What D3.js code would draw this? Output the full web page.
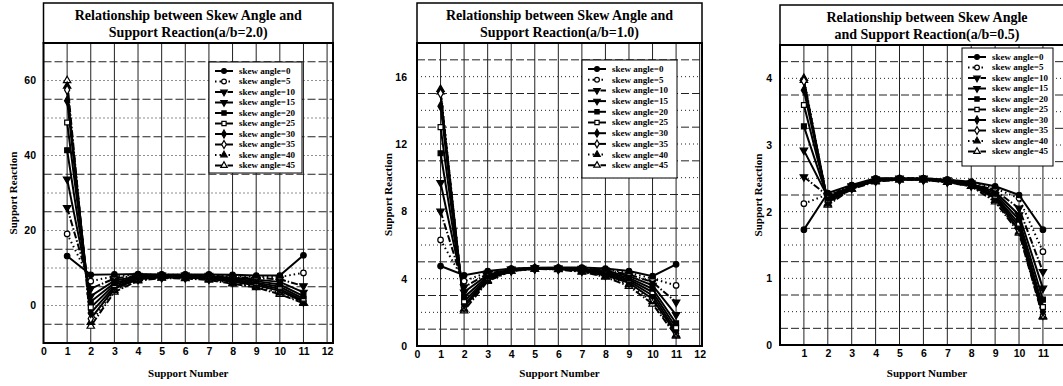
<!DOCTYPE html>
<html>
<head>
<meta charset="utf-8">
<script src="https://cdn.jsdelivr.net/npm/d3@7"></script>
<style>
  body { margin: 0; background: #fff; }
  svg { display: block; }
  .title { font-family: "Liberation Serif", "Times New Roman", serif; font-weight: bold; font-size: 14px; }
  .axis-title { font-family: "Liberation Serif", "Times New Roman", serif; font-weight: bold; font-size: 11px; }
  .tick text { font-family: "Liberation Sans", Arial, sans-serif; font-weight: bold; font-size: 10.5px; fill: #000; }
  .legend text { font-family: "Liberation Serif", "Times New Roman", serif; font-weight: bold; font-size: 9px; }
</style>
</head>
<body>
<svg id="chart" width="1063" height="386"></svg>
<script>
const supportNumbers = [1, 2, 3, 4, 5, 6, 7, 8, 9, 10, 11];
const skewAngles = [0, 5, 10, 15, 20, 25, 30, 35, 40, 45];

// support reaction, one row per support number, one column per skew angle
const reactionAB20 = [
  [13.2, 19.1, 26.1, 33.7, 41.4, 48.8, 54.6, 57.5, 58.5, 60.0],
  [8.2, 6.5, 4.5, 2.5, 1.0, -0.5, -2.0, -3.5, -4.5, -5.5],
  [8.3, 7.8, 7.2, 6.6, 6.0, 5.5, 5.0, 4.5, 4.0, 3.6],
  [8.4, 8.2, 8.0, 7.8, 7.6, 7.4, 7.2, 7.0, 6.8, 6.6],
  [8.3, 8.2, 8.1, 8.0, 7.9, 7.8, 7.6, 7.5, 7.4, 7.3],
  [8.3, 8.2, 8.1, 8.0, 7.8, 7.7, 7.6, 7.4, 7.3, 7.2],
  [8.3, 8.1, 8.0, 7.8, 7.6, 7.4, 7.3, 7.1, 7.0, 6.8],
  [8.2, 7.9, 7.6, 7.4, 7.1, 6.8, 6.5, 6.3, 6.0, 5.8],
  [8.0, 7.6, 7.3, 6.9, 6.5, 6.1, 5.8, 5.4, 5.1, 4.8],
  [8.0, 7.6, 7.0, 6.3, 5.6, 5.0, 4.4, 3.9, 3.4, 3.0],
  [13.4, 8.7, 5.2, 3.5, 2.5, 1.8, 1.3, 1.0, 0.8, 0.6]
];

const reactionAB10 = [
  [4.75, 6.3, 8.0, 9.7, 11.45, 13.0, 14.25, 15.0, 15.25, 15.1],
  [4.2, 3.85, 3.5, 3.2, 2.9, 2.65, 2.45, 2.3, 2.2, 2.1],
  [4.45, 4.38, 4.3, 4.22, 4.15, 4.08, 4.0, 3.95, 3.9, 3.85],
  [4.6, 4.58, 4.56, 4.54, 4.52, 4.5, 4.49, 4.48, 4.46, 4.45],
  [4.65, 4.64, 4.63, 4.62, 4.61, 4.6, 4.6, 4.59, 4.58, 4.58],
  [4.66, 4.64, 4.62, 4.61, 4.6, 4.59, 4.58, 4.57, 4.56, 4.55],
  [4.66, 4.63, 4.6, 4.57, 4.54, 4.51, 4.48, 4.45, 4.42, 4.4],
  [4.6, 4.55, 4.5, 4.45, 4.4, 4.33, 4.27, 4.2, 4.15, 4.1],
  [4.45, 4.35, 4.25, 4.15, 4.05, 3.95, 3.85, 3.75, 3.65, 3.55],
  [4.15, 4.0, 3.8, 3.6, 3.4, 3.2, 3.0, 2.8, 2.65, 2.5],
  [4.85, 3.6, 2.6, 1.85, 1.35, 1.1, 0.9, 0.75, 0.65, 0.6]
];

const reactionAB05 = [
  [1.73, 2.12, 2.52, 2.92, 3.28, 3.6, 3.82, 3.96, 4.0, 3.97],
  [2.28, 2.26, 2.24, 2.22, 2.2, 2.18, 2.16, 2.14, 2.12, 2.1],
  [2.4, 2.39, 2.38, 2.38, 2.37, 2.36, 2.36, 2.35, 2.34, 2.34],
  [2.5, 2.49, 2.49, 2.48, 2.48, 2.47, 2.47, 2.46, 2.46, 2.45],
  [2.5, 2.5, 2.5, 2.49, 2.49, 2.49, 2.49, 2.48, 2.48, 2.48],
  [2.5, 2.5, 2.5, 2.49, 2.49, 2.49, 2.48, 2.48, 2.48, 2.48],
  [2.48, 2.48, 2.47, 2.47, 2.46, 2.46, 2.45, 2.45, 2.44, 2.44],
  [2.45, 2.44, 2.43, 2.42, 2.41, 2.4, 2.4, 2.39, 2.38, 2.38],
  [2.38, 2.35, 2.32, 2.3, 2.27, 2.24, 2.22, 2.2, 2.17, 2.15],
  [2.25, 2.2, 2.05, 1.95, 1.88, 1.82, 1.77, 1.72, 1.7, 1.68],
  [1.73, 1.4, 1.1, 0.85, 0.68, 0.57, 0.5, 0.45, 0.43, 0.42]
];

const xTicksFull = [0, 1, 2, 3, 4, 5, 6, 7, 8, 9, 10, 11, 12];
const xTicksInner = [1, 2, 3, 4, 5, 6, 7, 8, 9, 10, 11];
const yTicksAB20 = [0, 20, 40, 60];
const yTicksAB10 = [0, 4, 8, 12, 16];
const yTicksAB05 = [0, 1, 2, 3, 4];

const panels = [
  { title: ['Relationship between Skew Angle and', 'Support Reaction(a/b=2.0)'], data: reactionAB20,
    xTicks: xTicksFull, yTicks: yTicksAB20, xMax: 12.25, yDomain: [-10, 70], gridStep: 5,
    left: 43.5, right: 333, top: 3, plotTop: 43, bottom: 343,
    tickX: 36, titleX: 13, legend: { x: 209, y: 62, w: 93, h: 111, step: 10.5 } },
  { title: ['Relationship between Skew Angle and', 'Support Reaction(a/b=1.0)'], data: reactionAB10,
    xTicks: xTicksFull, yTicks: yTicksAB10, xMax: 12.1, yDomain: [0, 18], gridStep: 1,
    left: 417, right: 702, top: 3, plotTop: 43, bottom: 346,
    tickX: 407, titleX: 388, legend: { x: 582, y: 60, w: 95, h: 118, step: 10.7 } },
  { title: ['Relationship between Skew Angle', 'and Support Reaction(a/b=0.5)'], data: reactionAB05,
    xTicks: xTicksInner, yTicks: yTicksAB05, xMax: 12.3, yDomain: [0, 4.5], gridStep: 0.25,
    left: 780, right: 1074, top: 5, plotTop: 45, bottom: 345,
    tickX: 772, titleX: 758, legend: { x: 962, y: 48, w: 91, h: 118, step: 10.5 } }
];

const seriesStyle = [
  { shape: d3.symbolCircle, rot: 0, open: false, dash: null },
  { shape: d3.symbolCircle, rot: 0, open: true, dash: '1.5,3' },
  { shape: d3.symbolTriangle, rot: 180, open: false, dash: '7,2,1.5,2' },
  { shape: d3.symbolTriangle, rot: 180, open: false, dash: null },
  { shape: d3.symbolSquare, rot: 0, open: false, dash: null },
  { shape: d3.symbolSquare, rot: 0, open: true, dash: null },
  { shape: d3.symbolDiamond, rot: 0, open: false, dash: null },
  { shape: d3.symbolDiamond, rot: 0, open: true, dash: null },
  { shape: d3.symbolTriangle, rot: 0, open: false, dash: '1.5,3' },
  { shape: d3.symbolTriangle, rot: 0, open: true, dash: '7,2,1.5,2' }
];

const svg = d3.select('#chart');

panels.forEach((p, pi) => drawPanel(p, pi));

function drawPanel(p, pi) {
  const x = d3.scaleLinear().domain([0, p.xMax]).range([p.left, p.right]);
  const y = d3.scaleLinear().domain(p.yDomain).range([p.bottom, p.plotTop]);
  const g = svg.append('g');

  g.append('clipPath')
    .attr('id', `clip${pi}`)
    .append('rect')
    .attr('x', p.left)
    .attr('y', p.plotTop)
    .attr('width', p.right - p.left)
    .attr('height', p.bottom - p.plotTop);

  // grid
  const nH = Math.round((p.yDomain[1] - p.yDomain[0]) / p.gridStep);
  const hLines = d3.range(1, nH).map(i => p.yDomain[0] + i * p.gridStep);
  g.append('g')
    .selectAll('line')
    .data(hLines)
    .join('line')
    .attr('x1', p.left)
    .attr('x2', p.right)
    .attr('y1', d => y(d))
    .attr('y2', d => y(d))
    .attr('stroke', '#222')
    .attr('stroke-width', 1)
    .attr('stroke-dasharray', (d, i) => i % 2 ? '1,3' : '8,3');

  const vLines = d3.range(1, Math.floor(p.xMax) + 1);
  g.append('g')
    .selectAll('line')
    .data(vLines)
    .join('line')
    .attr('x1', d => x(d))
    .attr('x2', d => x(d))
    .attr('y1', p.plotTop)
    .attr('y2', p.bottom)
    .attr('stroke', '#222')
    .attr('stroke-width', 1);

  // series
  const series = d3.transpose(p.data);
  const line = d3.line()
    .x((d, i) => x(supportNumbers[i]))
    .y(d => y(d));

  const plot = g.append('g').attr('clip-path', `url(#clip${pi})`);
  const sg = plot.selectAll('g.series')
    .data(series.map((values, k) => ({ values, k })).reverse())
    .join('g')
    .attr('class', 'series');

  sg.append('path')
    .attr('d', d => line(d.values))
    .attr('fill', 'none')
    .attr('stroke', '#000')
    .attr('stroke-width', 2)
    .attr('stroke-dasharray', d => seriesStyle[d.k].dash);

  sg.selectAll('path.mark')
    .data(d => d.values.map((v, i) => ({ v, i, k: d.k })))
    .join('path')
    .attr('class', 'mark')
    .attr('d', d => d3.symbol().type(seriesStyle[d.k].shape).size(24)())
    .attr('transform', d => `translate(${x(supportNumbers[d.i])},${y(d.v)}) rotate(${seriesStyle[d.k].rot})`)
    .attr('fill', d => seriesStyle[d.k].open ? '#fff' : '#000')
    .attr('stroke', '#000')
    .attr('stroke-width', 1.2);

  // frame and title box
  g.append('rect')
    .attr('x', p.left)
    .attr('y', p.top)
    .attr('width', p.right - p.left)
    .attr('height', p.plotTop - p.top)
    .attr('fill', 'none')
    .attr('stroke', '#000')
    .attr('stroke-width', 1.5);

  g.append('rect')
    .attr('x', p.left)
    .attr('y', p.plotTop)
    .attr('width', p.right - p.left)
    .attr('height', p.bottom - p.plotTop)
    .attr('fill', 'none')
    .attr('stroke', '#000')
    .attr('stroke-width', 2);

  const cx = (p.left + p.right) / 2;
  g.append('text')
    .attr('class', 'title')
    .attr('text-anchor', 'middle')
    .selectAll('tspan')
    .data(p.title)
    .join('tspan')
    .attr('x', cx)
    .attr('y', (d, i) => p.top + 17 + i * 17)
    .text(d => d);

  // axes
  const xAxis = d3.axisBottom(x).tickValues(p.xTicks).tickSize(0).tickPadding(5).tickFormat(d3.format('d'));
  g.append('g')
    .attr('transform', `translate(0,${p.bottom})`)
    .call(xAxis)
    .call(a => a.select('.domain').remove());

  const yAxis = d3.axisLeft(y).tickValues(p.yTicks).tickSize(0).tickPadding(0).tickFormat(d3.format('d'));
  g.append('g')
    .attr('transform', `translate(${p.tickX},0)`)
    .call(yAxis)
    .call(a => a.select('.domain').remove());

  g.append('text')
    .attr('class', 'axis-title')
    .attr('text-anchor', 'middle')
    .attr('x', cx)
    .attr('y', 377)
    .text('Support Number');

  g.append('text')
    .attr('class', 'axis-title')
    .attr('text-anchor', 'middle')
    .attr('transform', `translate(${p.titleX + 4},${(p.plotTop + p.bottom) / 2}) rotate(-90)`)
    .text('Support Reaction');

  // legend
  const lg = g.append('g')
    .attr('class', 'legend')
    .attr('transform', `translate(${p.legend.x},${p.legend.y})`);

  lg.append('rect')
    .attr('width', p.legend.w)
    .attr('height', p.legend.h)
    .attr('fill', '#fff')
    .attr('stroke', '#000')
    .attr('stroke-width', 1);

  const item = lg.selectAll('g')
    .data(skewAngles)
    .join('g')
    .attr('transform', (d, i) => `translate(0,${9 + i * p.legend.step})`);

  item.append('line')
    .attr('x1', 6)
    .attr('x2', 24)
    .attr('stroke', '#000')
    .attr('stroke-width', 2)
    .attr('stroke-dasharray', (d, i) => seriesStyle[i].dash);

  item.append('path')
    .attr('d', (d, i) => d3.symbol().type(seriesStyle[i].shape).size(18)())
    .attr('transform', (d, i) => `translate(15,0) rotate(${seriesStyle[i].rot})`)
    .attr('fill', (d, i) => seriesStyle[i].open ? '#fff' : '#000')
    .attr('stroke', '#000')
    .attr('stroke-width', 1.2);

  item.append('text')
    .attr('x', 30)
    .attr('dy', '0.33em')
    .text(d => `skew angle=${d}`);
}
</script>
</body>
</html>
